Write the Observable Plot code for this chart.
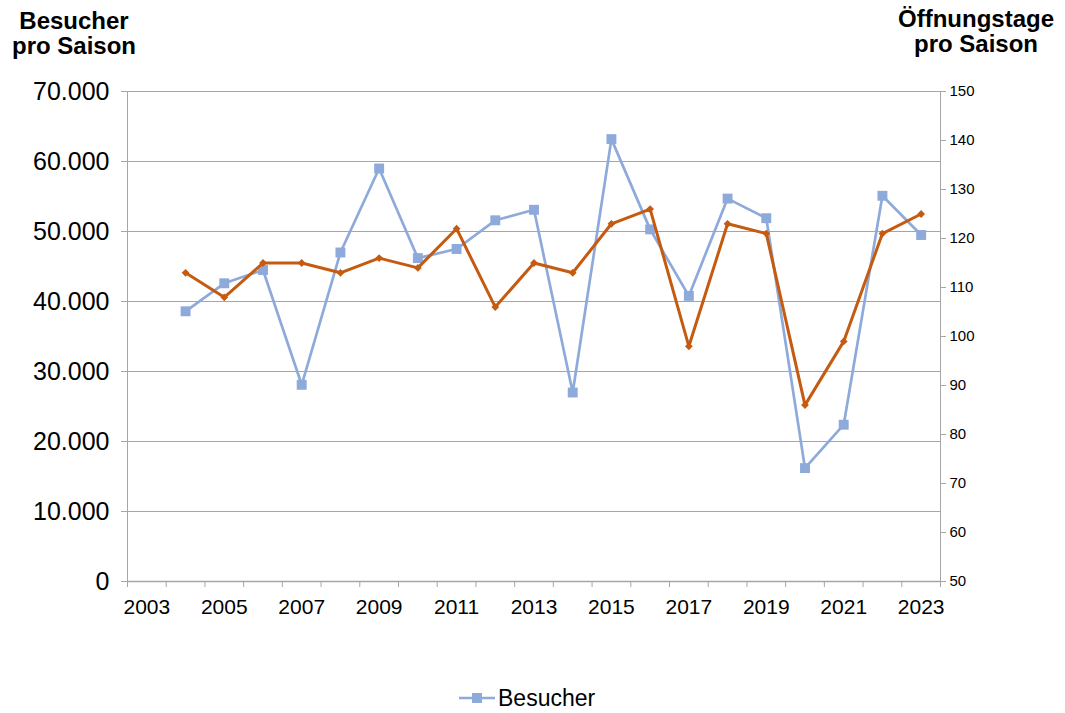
<!DOCTYPE html>
<html><head><meta charset="utf-8">
<script src="https://cdn.jsdelivr.net/npm/d3@7"></script>
<script src="https://cdn.jsdelivr.net/npm/@observablehq/plot@0.6"></script>
<style>
body{margin:0;background:#fff;font-family:"Liberation Sans",Arial,sans-serif;}
#wrap{position:relative;width:1065px;height:713px;overflow:hidden;}
.t{position:absolute;font-weight:bold;font-size:24px;line-height:25px;color:#000;text-align:center;}
#legend{position:absolute;left:458px;top:685px;font-size:23px;line-height:26px;display:flex;align-items:center;color:#000;}
#chart{position:absolute;left:0;top:0;}
</style></head><body>
<div id="wrap">
<div class="t" style="left:4px;top:8px;width:140px;">Besucher<br>pro Saison</div>
<div class="t" style="left:886px;top:6px;width:180px;">Öffnungstage<br>pro Saison</div>
<div id="chart"></div>
<div id="legend"></div>
</div>
<script>
const years = [2004,2005,2006,2007,2008,2009,2010,2011,2012,2013,2014,2015,2016,2017,2018,2019,2020,2021,2022,2023];
const besucher = [38600,42600,44500,28100,47000,59000,46200,47500,51600,53100,27000,63200,50300,40800,54700,51900,16200,22400,55100,49500];
const oeffnungstage = [113,108,115,115,113,116,114,122,106,115,113,123,126,98,123,121,86,99,121,125];
const xTickYears = [2003,2005,2007,2009,2011,2013,2015,2017,2019,2021,2023];
const leftTicks = [0,10000,20000,30000,40000,50000,60000,70000];
const rightTicks = [50,60,70,80,90,100,110,120,130,140,150];

const blue = "#8eaadb";
const orange = "#c55a11";
const gray = "#a6a6a6";
const fmtDE = d3.formatLocale({decimal:",", thousands:".", grouping:[3], currency:["","€"]}).format(",");
// map right-axis values (days 50..150) onto the left scale (0..70000)
const toLeft = v => (v - 50) * 700;
const fromLeft = v => Math.round(v / 700 + 50);

const data = years.map((y, i) => ({year: y, besucher: besucher[i], tage: oeffnungstage[i]}));
const boundaries = d3.range(2002.5, 2024, 1);

const plot = Plot.plot({
  width: 1065, height: 713,
  marginLeft: 127, marginRight: 125, marginTop: 91, marginBottom: 132,
  x: {domain: [2002.5, 2023.5]},
  y: {domain: [0, 70000]},
  style: {fontFamily: "'Liberation Sans', Arial, sans-serif", color: "#000", background: "transparent"},
  marks: [
    Plot.gridY(leftTicks.filter(d => d > 0), {stroke: gray, strokeOpacity: 1}),
    Plot.ruleX([2002.5, 2023.5], {stroke: gray}),
    Plot.ruleY([0], {stroke: gray, strokeWidth: 1.5}),
    Plot.axisY(leftTicks, {anchor: "left", tickFormat: fmtDE, tickSize: 6, tickPadding: 12, fontSize: 25, stroke: gray, fill: "#000", label: null}),
    Plot.axisY(rightTicks.map(toLeft), {anchor: "right", tickFormat: fromLeft, tickSize: 5, tickPadding: 4, fontSize: 15, stroke: gray, fill: "#000", label: null}),
    Plot.axisX(boundaries, {tickSize: 6, tickFormat: () => "", stroke: gray, label: null}),
    Plot.axisX(xTickYears, {tickSize: 0, tickPadding: 18, fontSize: 21, tickFormat: d => String(d), fill: "#000", label: null}),
    Plot.line(data, {x: "year", y: "besucher", stroke: blue, strokeWidth: 2.7}),
    Plot.dot(data, {x: "year", y: "besucher", symbol: "square", r: 5.6, fill: blue, stroke: "none"}),
    Plot.line(data, {x: "year", y: d => toLeft(d.tage), stroke: orange, strokeWidth: 3}),
    Plot.dot(data, {x: "year", y: d => toLeft(d.tage), symbol: "diamond2", r: 3.5, fill: orange, stroke: "none"})
  ]
});
document.getElementById("chart").appendChild(plot);

const lg = document.getElementById("legend");
lg.innerHTML = `<svg width="38" height="14" style="margin-right:2px"><line x1="1" x2="37" y1="7" y2="7" stroke="${blue}" stroke-width="2.5"/><rect x="14" y="2" width="10" height="10" fill="${blue}"/></svg><span>Besucher</span>`;
</script>
</body></html>
